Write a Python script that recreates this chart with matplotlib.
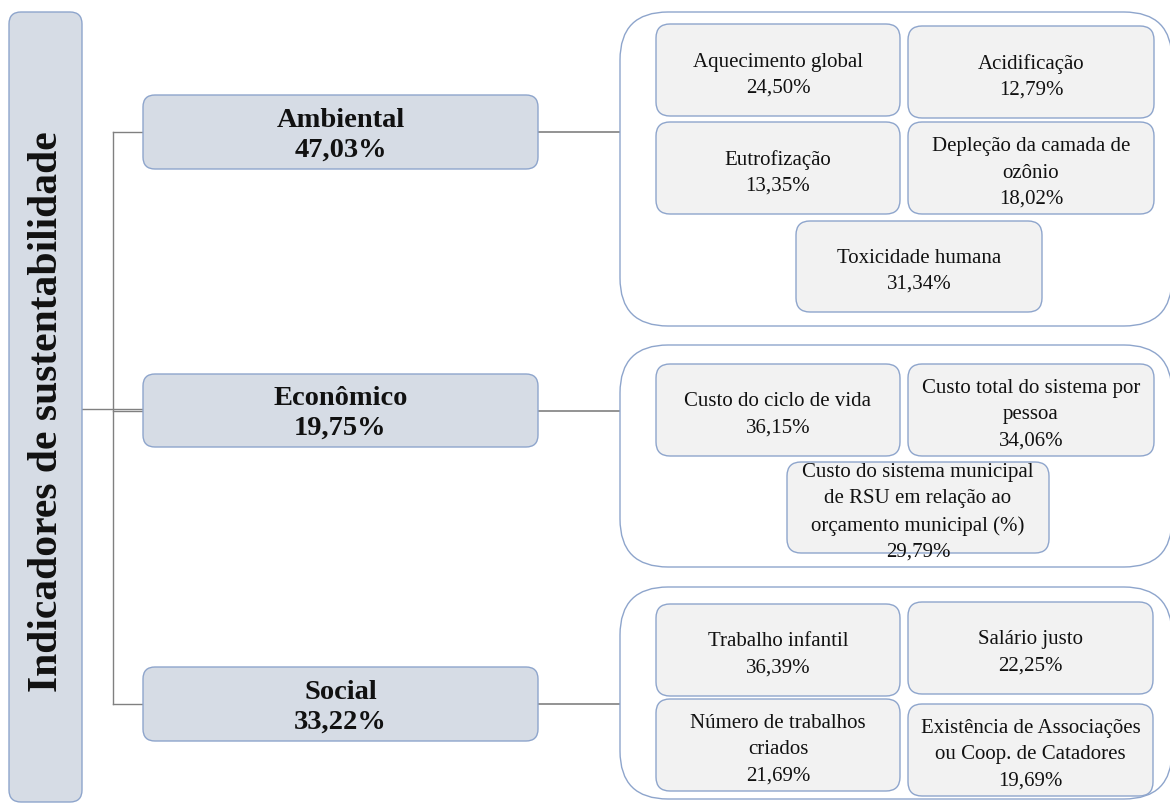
import matplotlib
matplotlib.use("Agg")
import matplotlib.pyplot as plt
from matplotlib.patches import FancyBboxPatch

plt.rcParams['font.family'] = ['Liberation Serif', 'DejaVu Serif']

# ---------------- data ----------------
title = "Indicadores de sustentabilidade"
dimensions = ["Ambiental", "Econômico", "Social"]
dimension_weights = [47.03, 19.75, 33.22]

amb_labels = ["Aquecimento global", "Acidificação", "Eutrofização",
              "Depleção da camada de\nozônio", "Toxicidade humana"]
amb_weights = [24.50, 12.79, 13.35, 18.02, 31.34]

eco_labels = ["Custo do ciclo de vida", "Custo total do sistema por\npessoa",
              "Custo do sistema municipal\nde RSU em relação ao\norçamento municipal (%)"]
eco_weights = [36.15, 34.06, 29.79]

soc_labels = ["Trabalho infantil", "Salário justo", "Número de trabalhos\ncriados",
              "Existência de Associações\nou Coop. de Catadores"]
soc_weights = [36.39, 22.25, 21.69, 19.69]


def fmt(v):
    return f"{v:.2f}".replace(".", ",") + "%"


# ---------------- layout (pixel coordinates: x0, y0, x1, y1) ----------------
W, H = 1170, 804
title_box = (9, 13, 82, 803)
dim_boxes = [(143, 96, 538, 170), (143, 375, 538, 448), (143, 668, 538, 742)]
containers = [(620, 13, 1172, 327), (620, 346, 1172, 568), (620, 588, 1172, 800)]
sub_boxes = [
    [(656, 25, 900, 117), (908, 27, 1154, 119), (656, 123, 900, 215),
     (908, 123, 1154, 215), (796, 222, 1042, 313)],
    [(656, 365, 900, 457), (908, 365, 1154, 457), (787, 463, 1049, 554)],
    [(656, 605, 900, 697), (908, 603, 1153, 695), (656, 700, 900, 792),
     (908, 705, 1153, 797)],
]
spine_x = 113

dim_fill, dim_edge = "#D6DCE5", "#8EA5CC"
sub_fill, sub_edge = "#F2F2F2", "#8EA5CC"
cont_edge = "#8EA5CC"
line_col = "#808080"

fig = plt.figure(figsize=(W / 100, H / 100), dpi=100)
ax = fig.add_axes([0, 0, 1, 1])
ax.set_xlim(0, W)
ax.set_ylim(H, 0)
ax.axis("off")


def rbox(b, r, fc, ec, lw=1.0, z=2):
    x0, y0, x1, y1 = b
    p = FancyBboxPatch((x0, y0), x1 - x0, y1 - y0,
                       boxstyle=f"round,pad=0,rounding_size={r}",
                       fc=fc, ec=ec, lw=lw, zorder=z)
    ax.add_patch(p)


# title box
rbox(title_box, 12, dim_fill, dim_edge)
tx = (title_box[0] + title_box[2]) / 2
ax.text(tx + 2, 412, title, rotation=90, ha="center", va="center",
        fontsize=30, fontweight="bold", color="#111111", zorder=5)

# connectors
centers = [(b[1] + b[3]) / 2 for b in dim_boxes]
ax.plot([spine_x, spine_x], [centers[0], centers[2]], color=line_col, lw=1.0, zorder=1)
ax.plot([title_box[2], dim_boxes[1][0]], [410, 410], color=line_col, lw=1.0, zorder=1)
for b, c in zip(dim_boxes, centers):
    ax.plot([spine_x, b[0]], [c, c], color=line_col, lw=1.0, zorder=1)
    ax.plot([b[2], containers[0][0]], [c, c], color=line_col, lw=1.2, zorder=1)

# dimension boxes
for b, name, w in zip(dim_boxes, dimensions, dimension_weights):
    rbox(b, 12, dim_fill, dim_edge)
    cx = (b[0] + b[2]) / 2
    cy = (b[1] + b[3]) / 2 + 2
    ax.text(cx, cy, f"{name}\n{fmt(w)}", ha="center", va="center",
            fontsize=20.5, fontweight="bold", color="#111111",
            linespacing=1.25, zorder=5)

# containers
for b in containers:
    rbox(b, 48, "white", cont_edge, lw=1.0, z=1.5)

# sub-indicator boxes
groups = [(amb_labels, amb_weights), (eco_labels, eco_weights), (soc_labels, soc_weights)]
for boxes, (labels, weights) in zip(sub_boxes, groups):
    for b, lab, w in zip(boxes, labels, weights):
        rbox(b, 14, sub_fill, sub_edge)
        cx = (b[0] + b[2]) / 2
        cy = (b[1] + b[3]) / 2 + 4
        ax.text(cx, cy, f"{lab}\n{fmt(w)}", ha="center", va="center",
                fontsize=15, color="#111111", linespacing=1.5, zorder=5)

fig.savefig("out.png", dpi=100)
